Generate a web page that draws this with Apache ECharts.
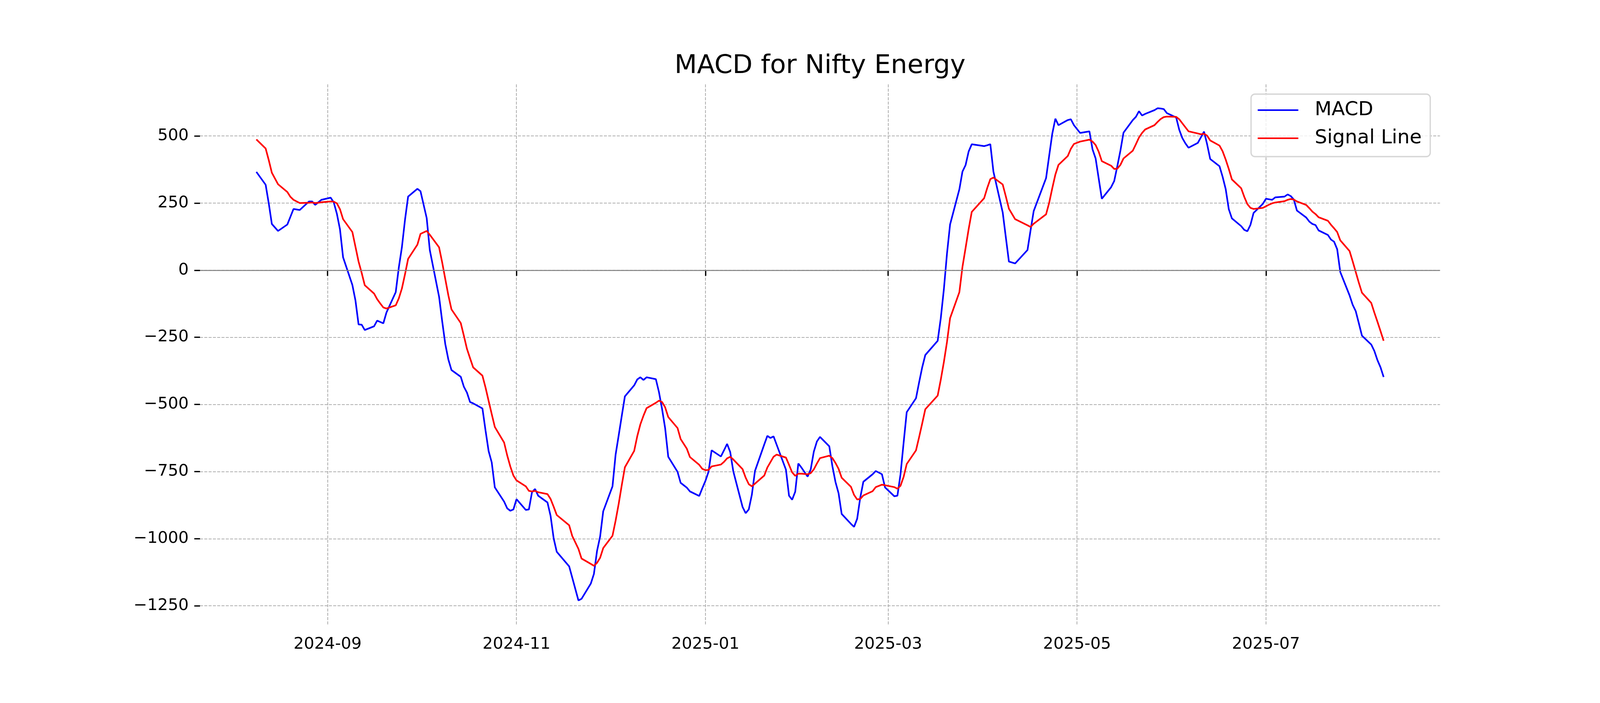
<!DOCTYPE html>
<html><head><meta charset="utf-8">
<script src="https://cdn.jsdelivr.net/npm/echarts@6/dist/echarts.min.js"></script>
<style>html,body{margin:0;padding:0;background:#fff;overflow:hidden}#c{width:100vw;height:100vh}</style>
</head><body><div id="c"></div>
<script>
const dates = [
'2024-08-09','2024-08-12','2024-08-13','2024-08-14','2024-08-16','2024-08-19','2024-08-20','2024-08-21','2024-08-22','2024-08-23','2024-08-26','2024-08-27','2024-08-28','2024-08-29','2024-08-30',
'2024-09-02','2024-09-03','2024-09-04','2024-09-05','2024-09-06','2024-09-09','2024-09-10','2024-09-11','2024-09-12','2024-09-13','2024-09-16','2024-09-17','2024-09-18','2024-09-19','2024-09-20','2024-09-23','2024-09-24','2024-09-25','2024-09-26','2024-09-27','2024-09-30',
'2024-10-01','2024-10-03','2024-10-04','2024-10-07','2024-10-08','2024-10-09','2024-10-10','2024-10-11','2024-10-14','2024-10-15','2024-10-16','2024-10-17','2024-10-18','2024-10-21','2024-10-22','2024-10-23','2024-10-24','2024-10-25','2024-10-28','2024-10-29','2024-10-30','2024-10-31',
'2024-11-01','2024-11-04','2024-11-05','2024-11-06','2024-11-07','2024-11-08','2024-11-11','2024-11-12','2024-11-13','2024-11-14','2024-11-18','2024-11-19','2024-11-21','2024-11-22','2024-11-25','2024-11-26','2024-11-27','2024-11-28','2024-11-29',
'2024-12-02','2024-12-03','2024-12-04','2024-12-05','2024-12-06','2024-12-09','2024-12-10','2024-12-11','2024-12-12','2024-12-13','2024-12-16','2024-12-17','2024-12-18','2024-12-19','2024-12-20','2024-12-23','2024-12-24','2024-12-26','2024-12-27','2024-12-30','2024-12-31',
'2025-01-01','2025-01-02','2025-01-03','2025-01-06','2025-01-07','2025-01-08','2025-01-09','2025-01-10','2025-01-13','2025-01-14','2025-01-15','2025-01-16','2025-01-17','2025-01-20','2025-01-21','2025-01-22','2025-01-23','2025-01-24','2025-01-27','2025-01-28','2025-01-29','2025-01-30','2025-01-31',
'2025-02-01','2025-02-03','2025-02-04','2025-02-05','2025-02-06','2025-02-07','2025-02-10','2025-02-11','2025-02-12','2025-02-13','2025-02-14','2025-02-17','2025-02-18','2025-02-19','2025-02-20','2025-02-21','2025-02-24','2025-02-25','2025-02-27','2025-02-28',
'2025-03-03','2025-03-04','2025-03-05','2025-03-06','2025-03-07','2025-03-10','2025-03-11','2025-03-12','2025-03-13','2025-03-17','2025-03-18','2025-03-19','2025-03-20','2025-03-21','2025-03-24','2025-03-25','2025-03-26','2025-03-27','2025-03-28',
'2025-04-01','2025-04-02','2025-04-03','2025-04-04','2025-04-07','2025-04-08','2025-04-09','2025-04-11','2025-04-15','2025-04-16','2025-04-17','2025-04-21','2025-04-22','2025-04-23','2025-04-24','2025-04-25','2025-04-28','2025-04-29','2025-04-30',
'2025-05-02','2025-05-05','2025-05-06','2025-05-07','2025-05-08','2025-05-09','2025-05-12','2025-05-13','2025-05-14','2025-05-15','2025-05-16','2025-05-19','2025-05-20','2025-05-21','2025-05-22','2025-05-23','2025-05-26','2025-05-27','2025-05-28','2025-05-29','2025-05-30',
'2025-06-02','2025-06-03','2025-06-04','2025-06-05','2025-06-06','2025-06-09','2025-06-10','2025-06-11','2025-06-12','2025-06-13','2025-06-16','2025-06-17','2025-06-18','2025-06-19','2025-06-20','2025-06-23','2025-06-24','2025-06-25','2025-06-26','2025-06-27','2025-06-30',
'2025-07-01','2025-07-02','2025-07-03','2025-07-04','2025-07-07','2025-07-08','2025-07-09','2025-07-10','2025-07-11','2025-07-14','2025-07-15','2025-07-16','2025-07-17','2025-07-18','2025-07-21','2025-07-22','2025-07-23','2025-07-24','2025-07-25','2025-07-28','2025-07-29','2025-07-30','2025-07-31',
'2025-08-01','2025-08-04','2025-08-05','2025-08-06','2025-08-07','2025-08-08'
];
const macd = [
366,318,249,172,146,170,199,228,226,224,256,256,243,253,262,
270,252,210,152,48,-55,-113,-202,-203,-223,-209,-188,-193,-198,-158,-82,10,86,188,274,303,
294,194,75,-99,-190,-275,-333,-372,-397,-434,-456,-491,-496,-515,-597,-674,-716,-809,-862,-887,-896,-891,
-853,-893,-891,-827,-815,-840,-865,-915,-999,-1049,-1103,-1145,-1230,-1224,-1167,-1131,-1046,-992,-898,
-805,-687,-615,-542,-470,-429,-407,-399,-409,-399,-406,-454,-517,-589,-695,-751,-792,-810,-824,-841,-812,
-785,-751,-671,-694,-671,-647,-677,-749,-882,-905,-891,-836,-748,-649,-617,-625,-619,-650,-743,-840,-855,-825,-720,
-735,-769,-742,-676,-638,-621,-656,-730,-789,-831,-908,-945,-956,-926,-847,-788,-760,-748,-760,-809,
-842,-840,-760,-643,-529,-477,-418,-362,-316,-263,-179,-71,61,170,301,367,391,442,469,
462,465,469,367,215,123,32,25,75,149,220,343,426,508,564,540,559,562,540,
511,517,450,416,341,266,309,332,387,445,512,559,571,592,576,582,596,603,602,600,585,
569,523,492,472,456,474,495,516,469,414,387,348,302,227,193,164,150,145,169,213,247,
266,264,262,271,274,282,276,263,222,196,181,172,168,148,131,114,106,78,-7,-94,-129,-153,-198,
-244,-277,-301,-335,-362,-398
];
const signal = [
487,453,410,363,320,291,273,262,256,250,251,252,250,251,253,
256,255,249,227,190,142,87,32,-10,-56,-87,-108,-124,-139,-143,-131,-105,-68,-15,42,95,
135,146,132,85,29,-33,-94,-146,-197,-244,-293,-328,-362,-393,-437,-487,-536,-584,-642,-690,-731,-765,
-783,-805,-822,-824,-822,-827,-834,-852,-881,-912,-950,-990,-1038,-1074,-1094,-1101,-1090,-1071,-1035,
-989,-933,-870,-800,-734,-673,-618,-574,-542,-514,-494,-486,-491,-511,-547,-588,-629,-665,-696,-725,-740,
-745,-744,-731,-724,-714,-701,-695,-705,-741,-773,-797,-805,-795,-765,-735,-715,-695,-687,-698,-725,-753,-766,-758,
-758,-760,-756,-742,-720,-700,-691,-700,-718,-740,-773,-807,-837,-854,-852,-839,-823,-808,-799,-801,
-808,-814,-803,-770,-722,-671,-622,-571,-518,-467,-408,-342,-268,-179,-82,12,82,153,217,
268,306,339,345,319,275,229,190,167,161,173,208,251,305,356,392,425,452,470,
479,486,479,466,441,406,389,377,378,392,416,445,469,494,511,524,540,552,563,570,572,
571,562,547,532,517,509,506,508,501,483,464,443,412,377,338,305,273,246,232,228,232,
238,244,249,252,257,262,265,263,256,243,231,218,209,197,184,169,156,142,111,71,33,-7,-47,
-84,-122,-158,-192,-227,-263
];
const yTicks = [-1250, -1000, -750, -500, -250, 0, 250, 500];
const xTicks = ['2024-09-01', '2024-11-01', '2025-01-01', '2025-03-01', '2025-05-01', '2025-07-01'];

function ts(s) { const p = s.split('-').map(Number); return new Date(p[0], p[1] - 1, p[2]).getTime(); }
function pad(n) { return (n < 10 ? '0' : '') + n; }

const W = window.innerWidth || 4800, H = window.innerHeight || 1800;
const SX = W / 4800, SY = H / 1800;
const FONT = 'DejaVu Sans';

const t0 = ts(dates[0]), t1 = ts(dates[dates.length - 1]);
const span = t1 - t0;
const xMin = t0 - 0.05 * span, xMax = t1 + 0.05 * span;
const xTickVals = xTicks.map(ts);
const gridLine = { color: '#b0b0b0', width: 2.1, type: [7.7, 3.3] };

const plotL = 600 * SX, plotR = 4320 * SX, plotT = 216 * SY, plotB = 1602 * SY;
const titleText = 'MACD for Nifty Energy';
const mc = document.createElement('canvas').getContext('2d');
mc.font = '66.7px "' + FONT + '"';
const titleW = mc.measureText(titleText).width;

const chart = echarts.init(document.getElementById('c'), null, { renderer: 'canvas', width: W, height: H });
chart.setOption({
  animation: false,
  backgroundColor: '#ffffff',
  title: {
    text: titleText,
    left: (plotL + plotR) / 2 - titleW / 2 - 5, top: 131 * SY, textAlign: 'left',
    textStyle: { fontFamily: FONT, fontSize: 66.7, fontWeight: 'normal', color: '#000' }
  },
  legend: {
    data: ['MACD', 'Signal Line'],
    orient: 'vertical',
    right: W - plotR + 25, top: 241 * SY,
    icon: 'rect', itemWidth: 104, itemHeight: 4.2, itemGap: 22,
    padding: [16, 22, 22, 17],
    borderColor: '#d6d6d6', borderWidth: 3.3, borderRadius: 10,
    backgroundColor: 'rgba(255,255,255,0.8)',
    textStyle: { fontFamily: FONT, fontSize: 50, color: '#000', lineHeight: 50, padding: [0, 0, 0, 37] }
  },
  grid: { left: plotL, right: W - plotR, top: plotT, bottom: H - plotB, containLabel: false },
  xAxis: {
    type: 'value', min: xMin, max: xMax,
    axisLine: { show: false },
    axisTick: { show: true, customValues: xTickVals, length: 14.6, lineStyle: { color: '#000', width: 3.3 } },
    axisLabel: {
      customValues: xTickVals, margin: 27,
      fontFamily: FONT, fontSize: 41.7, color: '#000',
      formatter: function (v) { const d = new Date(v); return d.getFullYear() + '-' + pad(d.getMonth() + 1); }
    },
    splitLine: { show: true, lineStyle: gridLine }
  },
  yAxis: {
    type: 'value', min: -1324, max: 692,
    axisLine: { show: false },
    axisTick: { show: true, customValues: yTicks, length: 14.6, lineStyle: { color: '#000', width: 3.3 } },
    axisLabel: {
      customValues: yTicks, margin: 29,
      fontFamily: FONT, fontSize: 41.7, color: '#000',
      formatter: function (v) { return String(v).replace('-', '\u2212'); }
    },
    splitLine: { show: true, lineStyle: gridLine }
  },
  series: [
    {
      name: 'MACD', type: 'line', showSymbol: false, symbol: 'none',
      data: dates.map(function (d, i) { return [ts(d), macd[i]]; }),
      lineStyle: { color: '#0000ff', width: 4.2 }, itemStyle: { color: '#0000ff' },
      markLine: {
        silent: true, symbol: 'none', label: { show: false },
        lineStyle: { color: '#808080', width: 2.5, type: 'solid' },
        data: [{ yAxis: 0 }]
      }
    },
    {
      name: 'Signal Line', type: 'line', showSymbol: false, symbol: 'none',
      data: dates.map(function (d, i) { return [ts(d), signal[i]]; }),
      lineStyle: { color: '#ff0000', width: 4.2 }, itemStyle: { color: '#ff0000' }
    }
  ]
});
</script>
</body></html>
